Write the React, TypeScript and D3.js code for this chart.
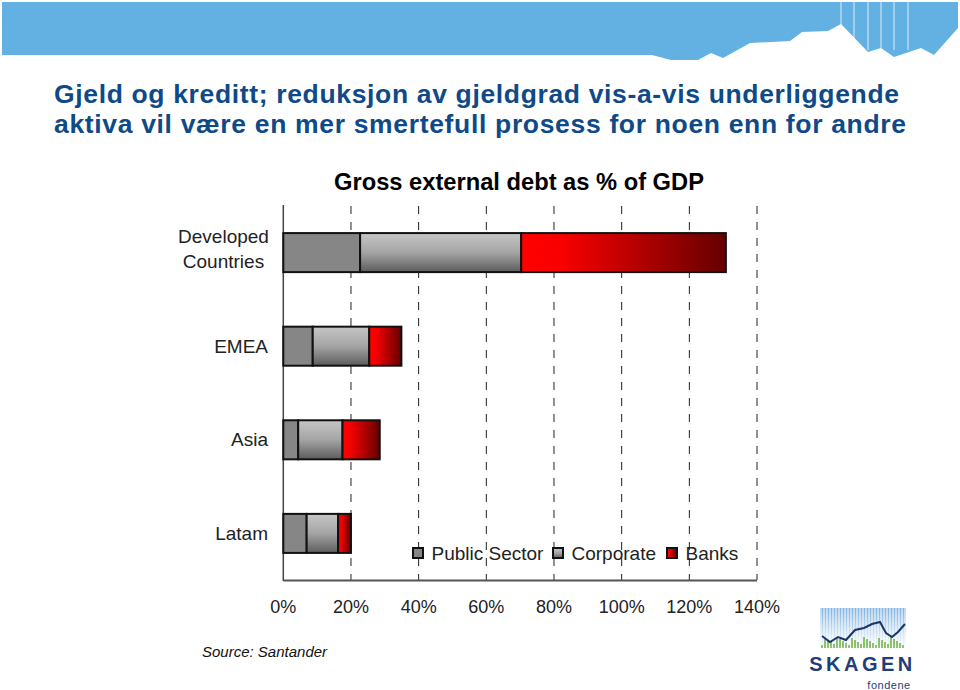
import React from "react";
import * as d3 from "d3";

const categories = ["Developed Countries", "EMEA", "Asia", "Latam"];
const seriesNames = ["Public Sector", "Corporate", "Banks"];
const publicSector = [22.7, 8.7, 4.4, 6.9];
const corporate = [47.6, 16.7, 13.1, 9.3];
const banks = [60.5, 9.5, 11.0, 3.8];
const xTicks = [0, 20, 40, 60, 80, 100, 120, 140];
const titleLines = [
  "Gjeld og kreditt; reduksjon av gjeldgrad vis-a-vis underliggende",
  "aktiva vil være en mer smertefull prosess for noen enn for andre",
];
const chartTitle = "Gross external debt as % of GDP";
const sourceText = "Source: Santander";

const FONT = "Arial, 'Liberation Sans', sans-serif";

export default function App() {
  const x = d3.scaleLinear().domain([0, 140]).range([283.3, 757]);
  const y = d3
    .scaleBand<string>()
    .domain(categories)
    .range([205, 581])
    .paddingInner(0.583)
    .paddingOuter(0.3);

  const table = categories.map((c, i) => ({
    cat: c,
    "Public Sector": publicSector[i],
    Corporate: corporate[i],
    Banks: banks[i],
  }));
  const stacked = d3.stack<any>().keys(seriesNames)(table);
  const fills = ["#868686", "url(#gCorp)", "url(#gBanks)"];

  const legendX = [413, 553, 667];
  const titleWidths = [845, 852];

  // banner shape (decoration)
  const banner =
    "M2,2 L958,2 L958,28 L934,55 L921,48 L894,57 L881,48 L868,52 L841,24 L828,31 L802,32 L790,41 L750,43 L723,58 L711,53 L698,60 L671,60 L652,55 L2,55 Z";
  const stripeXs = [841, 854, 868, 881, 894, 908];

  // logo decoration
  const logoLine = [
    [822, 636], [830, 642], [838, 637], [846, 640], [855, 630], [864, 628],
    [872, 624], [880, 622], [886, 633], [892, 637], [898, 632], [905, 624],
  ];

  return (
    <svg
      width={960}
      height={690}
      style={{ position: "absolute", left: 0, top: 0, background: "#fff" }}
      fontFamily={FONT}
    >
      <defs>
        <linearGradient id="gCorp" x1="0" y1="0" x2="0" y2="1">
          <stop offset="0" stopColor="#c6c6c6" />
          <stop offset="0.5" stopColor="#a4a4a4" />
          <stop offset="1" stopColor="#5c5c5c" />
        </linearGradient>
        <linearGradient id="gBanks" x1="0" y1="0" x2="1" y2="0">
          <stop offset="0" stopColor="#ff0000" />
          <stop offset="0.2" stopColor="#f80000" />
          <stop offset="1" stopColor="#650000" />
        </linearGradient>
        <linearGradient id="gLogo" x1="0" y1="0" x2="0" y2="1">
          <stop offset="0" stopColor="#7fb2e0" />
          <stop offset="1" stopColor="#ffffff" />
        </linearGradient>
      </defs>

      {/* banner */}
      <path d={banner} fill="#63b0e3" />
      {stripeXs.map((sx) => (
        <line key={sx} x1={sx} x2={sx} y1={2} y2={50} stroke="#ffffff" strokeWidth={1} opacity={0.8} />
      ))}

      {/* main title */}
      {titleLines.map((t, i) => (
        <text
          key={i}
          x={54}
          y={103 + i * 30}
          fontSize={26.5}
          fontWeight="bold"
          fill="#0f4a88"
          textLength={titleWidths[i]}
          lengthAdjust="spacing"
        >
          {t}
        </text>
      ))}

      {/* chart title */}
      <text x={519} y={190} textAnchor="middle" fontSize={23.7} fontWeight="bold" fill="#000">
        {chartTitle}
      </text>

      {/* gridlines */}
      {xTicks.slice(1).map((t) => (
        <line
          key={t}
          x1={x(t)}
          x2={x(t)}
          y1={206}
          y2={580}
          stroke="#222"
          strokeWidth={1}
          strokeDasharray="8,8"
        />
      ))}
      <line x1={x(0)} x2={x(0)} y1={205} y2={581} stroke="#444" strokeWidth={1.5} />
      <line x1={x(0)} x2={x(140)} y1={580.5} y2={580.5} stroke="#555" strokeWidth={2} />

      {/* tick labels */}
      {xTicks.map((t) => (
        <text key={t} x={x(t)} y={613} textAnchor="middle" fontSize={18} fill="#222">
          {t + "%"}
        </text>
      ))}

      {/* bars */}
      {stacked.map((s, si) =>
        s.map((d, i) => (
          <rect
            key={si + "-" + i}
            x={x(d[0])}
            y={y(categories[i])}
            width={x(d[1]) - x(d[0])}
            height={y.bandwidth()}
            fill={fills[si]}
            stroke="#111"
            strokeWidth={2}
          />
        ))
      )}

      {/* category labels */}
      {categories.map((c) => {
        const cy = (y(c) as number) + y.bandwidth() / 2;
        if (c.includes(" ")) {
          const parts = c.split(" ");
          return (
            <g key={c}>
              <text x={223.5} y={cy - 9.5} textAnchor="middle" fontSize={19} fill="#222">
                {parts[0]}
              </text>
              <text x={223.5} y={cy + 15.5} textAnchor="middle" fontSize={19} fill="#222">
                {parts[1]}
              </text>
            </g>
          );
        }
        return (
          <text key={c} x={268} y={cy + 6.5} textAnchor="end" fontSize={19} fill="#222">
            {c}
          </text>
        );
      })}

      {/* legend */}
      {seriesNames.map((n, i) => (
        <g key={n}>
          <rect x={legendX[i]} y={548} width={10} height={10} fill={fills[i]} stroke="#111" strokeWidth={2} />
          <text x={legendX[i] + 18.5} y={559.5} fontSize={19} fill="#222">
            {n}
          </text>
        </g>
      ))}

      {/* source */}
      <text x={202} y={657} fontSize={15} fontStyle="italic" fill="#111">
        {sourceText}
      </text>

      {/* logo */}
      <g>
        <rect x={820} y={608} width={86} height={40} fill="url(#gLogo)" />
        {d3.range(821, 906, 3).map((lx) => (
          <line key={lx} x1={lx} x2={lx} y1={608} y2={648} stroke="#fff" strokeWidth={1} />
        ))}
        {d3.range(822, 906, 3).map((lx, k) => (
          <line
            key={"g" + lx}
            x1={lx}
            x2={lx}
            y1={648}
            y2={648 - (3 + ((k * 7) % 9))}
            stroke="#66b33d"
            strokeWidth={1.5}
          />
        ))}
        <polyline
          points={logoLine.map((p) => p.join(",")).join(" ")}
          fill="none"
          stroke="#1b3566"
          strokeWidth={2}
        />
        <text x={862.5} y={671} textAnchor="middle" fontSize={20} fontWeight="bold" fill="#1f3d7a" letterSpacing={3.5}>
          SKAGEN
        </text>
        <text x={889} y={688.5} textAnchor="middle" fontSize={11} fill="#1f3d7a" letterSpacing={0.5}>
          fondene
        </text>
      </g>
    </svg>
  );
}
